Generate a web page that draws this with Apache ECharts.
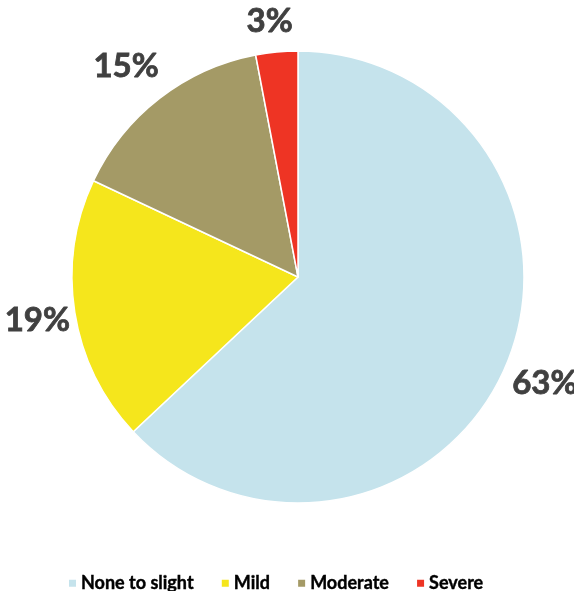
<!DOCTYPE html>
<html>
<head>
<meta charset="utf-8">
<script src="https://cdn.jsdelivr.net/npm/echarts@6/dist/echarts.min.js"></script>
<style>
  html, body { margin: 0; padding: 0; background: #fff; }
  #chart { width: 574px; height: 591px; }
</style>
</head>
<body>
<div id="chart"></div>
<script>
// Severity categories and their share of responses (%)
const categories = ['None to slight', 'Mild', 'Moderate', 'Severe'];
const shares = [63, 19, 15, 3];
const sliceColors = ['#C5E3EC', '#F5E61C', '#A49A66', '#EE3424'];

// small nudges for the percentage labels
const labelOffsets = [[0, 0], [5, 1], [-7, 2], [-3, 12]];

const pieData = categories.map((name, i) => ({
  name: name,
  value: shares[i],
  itemStyle: { color: sliceColors[i] }
}));

const center = [298, 277];

const chart = echarts.init(document.getElementById('chart'), null, { renderer: 'canvas' });
chart.setOption({
  animation: false,
  backgroundColor: '#ffffff',
  legend: {
    data: categories,
    top: 569,
    left: 62,
    icon: 'rect',
    itemWidth: 9,
    itemHeight: 9,
    itemGap: 26,
    textStyle: {
      fontFamily: 'Lato',
      fontWeight: 'bold',
      fontSize: 18,
      color: '#000000',
      textBorderColor: '#000000',
      textBorderWidth: 0.4,
      padding: [0, 0, 0, -1]
    }
  },
  series: [
    {
      // the pie itself
      type: 'pie',
      center: center,
      radius: 226,
      startAngle: 90,
      clockwise: true,
      silent: true,
      label: { show: false },
      labelLine: { show: false },
      itemStyle: { borderColor: '#ffffff', borderWidth: 1.5 },
      data: pieData
    },
    {
      // transparent ring carrying the percentage labels around the pie
      type: 'pie',
      center: center,
      radius: [228, 304],
      startAngle: 90,
      clockwise: true,
      silent: true,
      legendHoverLink: false,
      itemStyle: { color: 'rgba(0,0,0,0)' },
      label: {
        show: true,
        position: 'inside',
        formatter: '{c}%',
        fontFamily: 'Lato',
        fontWeight: 'bold',
        fontSize: 33,
        color: '#404040',
        textBorderColor: '#404040',
        textBorderWidth: 0.8
      },
      labelLine: { show: false },
      data: categories.map((name, i) => ({
        name: name,
        value: shares[i],
        label: { offset: labelOffsets[i] }
      }))
    }
  ]
});
</script>
</body>
</html>
